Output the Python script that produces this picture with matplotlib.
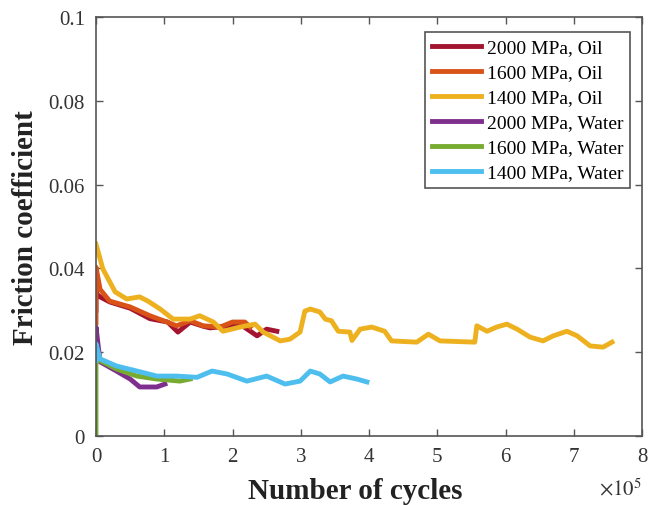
import matplotlib
matplotlib.use("Agg")
import matplotlib.pyplot as plt

plt.rcParams['font.family'] = ['Liberation Serif', 'DejaVu Serif']
plt.rcParams['mathtext.fontset'] = 'stix'

# x in units of 1e5 cycles
x_2000_oil = [0, 0, 0, 0.06, 0.2, 0.5, 0.79, 1.05, 1.2, 1.38, 1.57, 1.67, 1.9, 2.1, 2.36, 2.5, 2.65]
y_2000_oil = [0.030, 0.0395, 0.034, 0.0332, 0.032, 0.0305, 0.028, 0.0272, 0.0248, 0.0272, 0.0262, 0.0258, 0.0262, 0.0268, 0.0239, 0.0255, 0.025]

x_1600_oil = [0, 0, 0.06, 0.2, 0.5, 0.79, 1.04, 1.18, 1.38, 1.57, 1.82, 2.0, 2.18, 2.26]
y_1600_oil = [0.027, 0.0403, 0.035, 0.0322, 0.0308, 0.0287, 0.0272, 0.0263, 0.0275, 0.0263, 0.026, 0.0272, 0.0272, 0.026]

x_1400_oil = [0, 0.1, 0.28, 0.45, 0.64, 0.76, 0.94, 1.13, 1.38, 1.52, 1.72, 1.86, 2.11, 2.33, 2.45, 2.7, 2.84,
              2.99, 3.06, 3.14, 3.28, 3.36, 3.45, 3.55, 3.72, 3.75, 3.87, 4.04, 4.23, 4.33, 4.7, 4.87, 5.04,
              5.55, 5.58, 5.73, 5.87, 6.02, 6.17, 6.36, 6.55, 6.7, 6.9, 7.05, 7.24, 7.43, 7.56]
y_1400_oil = [0.0458, 0.0399, 0.0344, 0.0327, 0.0332, 0.0322, 0.0303, 0.0279, 0.0279, 0.0287, 0.0272, 0.025, 0.026, 0.0267, 0.0248, 0.0227, 0.0231,
              0.0248, 0.0298, 0.0303, 0.0296, 0.0279, 0.0275, 0.025, 0.0248, 0.0228, 0.0255, 0.026, 0.025, 0.0227, 0.0224, 0.0243, 0.0227,
              0.0224, 0.0263, 0.025, 0.026, 0.0267, 0.0255, 0.0236, 0.0227, 0.0239, 0.025, 0.0239, 0.0215, 0.0212, 0.0224]

x_2000_water = [0, 0, 0.06, 0.3, 0.5, 0.64, 0.89, 1.01]
y_2000_water = [0.019, 0.026, 0.0177, 0.0155, 0.0136, 0.0117, 0.0117, 0.0124]

x_1600_water = [0, 0, 0.06, 0.3, 0.6, 0.89, 1.23, 1.38]
y_1600_water = [0.0, 0.0184, 0.018, 0.016, 0.0143, 0.0136, 0.0131, 0.0136]

x_1400_water = [0, 0, 0.06, 0.3, 0.6, 0.89, 1.18, 1.48, 1.7, 1.92, 2.21, 2.5, 2.77, 2.99, 3.14, 3.28, 3.43, 3.62, 3.82, 3.97]
y_1400_water = [0.018, 0.022, 0.0184, 0.0167, 0.0155, 0.0143, 0.0143, 0.0140, 0.0155, 0.0148, 0.0131, 0.0143, 0.0124, 0.0131, 0.0155, 0.0148, 0.0129, 0.0143, 0.0136, 0.0129]

labels = ['2000 MPa, Oil', '1600 MPa, Oil', '1400 MPa, Oil', '2000 MPa, Water', '1600 MPa, Water', '1400 MPa, Water']
colors = ['#A2142F', '#D95319', '#EDB120', '#7E2F8E', '#77AC30', '#4DBEEE']

xticks = [0, 1, 2, 3, 4, 5, 6, 7, 8]
yticks = [0, 0.02, 0.04, 0.06, 0.08, 0.1]
ytick_labels = ['0', '0.02', '0.04', '0.06', '0.08', '0.1']

fig = plt.figure(figsize=(6.49, 5.06), dpi=100)
ax = fig.add_axes([96/649, 69/506, 546/649, 419/506])

series = [(x_2000_oil, y_2000_oil), (x_1600_oil, y_1600_oil), (x_1400_oil, y_1400_oil),
          (x_2000_water, y_2000_water), (x_1600_water, y_1600_water), (x_1400_water, y_1400_water)]
for (xs, ys), lab, c in zip(series, labels, colors):
    ax.plot(xs, ys, color=c, lw=3.5, label=lab, solid_joinstyle='round')

ax.set_xlim(0, 8)
ax.set_ylim(0, 0.1)
ax.set_xticks(xticks)
ax.set_xticklabels([str(t) for t in xticks])
ax.set_yticks(yticks)
ax.set_yticklabels(ytick_labels)

axcol = '#555555'
for s in ax.spines.values():
    s.set_color(axcol)
    s.set_linewidth(1.2)
ax.tick_params(direction='in', length=5, width=1, color=axcol, labelsize=15,
               top=True, right=True, labelcolor='#333333', pad=8)

ax.set_xlabel('Number of cycles', fontsize=21, fontweight='bold', color='#222222')
ax.xaxis.label.set_va('center')
ax.xaxis.set_label_coords(0.474, -0.131)
ax.set_ylabel('Friction coefficient', fontsize=21, fontweight='bold', color='#222222')
ax.yaxis.label.set_va('center')
ax.yaxis.set_label_coords(-0.13, 0.5)

ax.text(1.0, -0.125, r'$\times10^{5}$', transform=ax.transAxes, fontsize=15,
        ha='right', va='center', color='#333333')

leg = ax.legend(loc='upper right', bbox_to_anchor=(0.978, 0.964), borderaxespad=0,
                fontsize=14, handlelength=2.5, handletextpad=0.3,
                borderpad=0.35, labelspacing=0.38, fancybox=False, framealpha=1)
leg.get_frame().set_edgecolor(axcol)
leg.get_frame().set_linewidth(1.2)

fig.savefig('out.png', dpi=100)
